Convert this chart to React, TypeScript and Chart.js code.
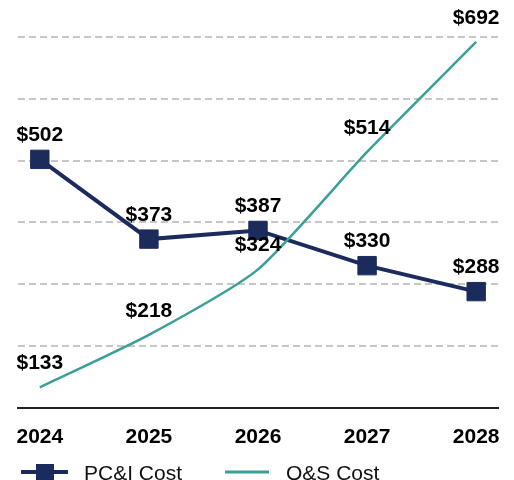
import React, { useEffect, useRef } from "react";
import { Chart, registerables } from "chart.js";

Chart.register(...registerables);

const years = [2024, 2025, 2026, 2027, 2028];
const pciCost = [502, 373, 387, 330, 288];
const osCost = [133, 218, 324, 514, 692];
const seriesNames = ["PC&I Cost", "O&S Cost"];

const NAVY = "#1b2b5c";
const TEAL = "#3a9f97";
const FONT = "'Liberation Sans', Arial, sans-serif";

const labelPlugin = {
  id: "valueLabels",
  afterDatasetsDraw(chart: any) {
    const ctx = chart.ctx;
    ctx.save();
    ctx.font = `bold 21px ${FONT}`;
    ctx.fillStyle = "#000";
    ctx.textAlign = "center";
    ctx.textBaseline = "middle";
    chart.data.datasets.forEach((ds: any, di: number) => {
      const meta = chart.getDatasetMeta(di);
      meta.data.forEach((pt: any, i: number) => {
        const v = ds.data[i].y;
        ctx.fillText("$" + v, pt.x, pt.y - 24);
      });
    });
    ctx.restore();
  },
};

const legendPlugin = {
  id: "customLegend",
  afterDraw(chart: any) {
    const ctx = chart.ctx;
    const y = 472;
    ctx.save();
    // PC&I
    ctx.strokeStyle = NAVY;
    ctx.lineWidth = 4;
    ctx.beginPath();
    ctx.moveTo(21, y);
    ctx.lineTo(68, y);
    ctx.stroke();
    ctx.fillStyle = NAVY;
    ctx.fillRect(36, y - 8, 18, 18);
    // O&S
    ctx.strokeStyle = TEAL;
    ctx.lineWidth = 3;
    ctx.beginPath();
    ctx.moveTo(225, y);
    ctx.lineTo(269, y);
    ctx.stroke();
    ctx.font = `21px ${FONT}`;
    ctx.fillStyle = "#111";
    ctx.textAlign = "left";
    ctx.textBaseline = "middle";
    ctx.fillText(seriesNames[0], 84, y + 2);
    ctx.fillText(seriesNames[1], 286, y + 2);
    ctx.restore();
  },
};

export default function App() {
  const ref = useRef<HTMLCanvasElement | null>(null);
  useEffect(() => {
    if (!ref.current) return;
    const chart = new Chart(ref.current, {
      type: "line",
      data: {
        datasets: [
          {
            label: seriesNames[0],
            data: years.map((x, i) => ({ x, y: pciCost[i] })),
            borderColor: NAVY,
            backgroundColor: NAVY,
            borderWidth: 4,
            pointStyle: "rect",
            pointRadius: 13,
            pointBorderWidth: 1,
            pointBackgroundColor: NAVY,
            pointBorderColor: NAVY,
            tension: 0,
            order: 1,
          },
          {
            label: seriesNames[1],
            data: years.map((x, i) => ({ x, y: osCost[i] })),
            borderColor: TEAL,
            backgroundColor: TEAL,
            borderWidth: 2.5,
            pointRadius: 0,
            tension: 0.2,
            order: 0,
          },
        ],
      },
      options: {
        responsive: false,
        animation: false,
        devicePixelRatio: 1,
        layout: { padding: { top: 37, left: 18, right: 16, bottom: 13 } },
        plugins: {
          legend: { display: false },
          tooltip: { enabled: false },
        },
        scales: {
          x: {
            type: "linear",
            min: 2023.8,
            max: 2028.2,
            afterBuildTicks: (s: any) => {
              s.ticks = years.map((v) => ({ value: v }));
            },
            afterFit: (s: any) => {
              s.paddingLeft = 0;
              s.paddingRight = 0;
            },
            grid: { display: false, drawTicks: false },
            border: { display: true, color: "#222", width: 2 },
            ticks: {
              padding: 17,
              color: "#000",
              font: { family: FONT, size: 21, weight: "bold" },
              callback: (v: any) => String(v),
              maxRotation: 0,
            },
          },
          y: {
            min: 100,
            max: 700,
            ticks: { display: false, stepSize: 100 },
            grid: {
              drawTicks: false,
              lineWidth: 2,
              color: (c: any) => (c.tick && c.tick.value === 100 ? "rgba(0,0,0,0)" : "#c6c6c6"),
            },
            border: { display: false, dash: [7, 4] },
          },
        },
      },
      plugins: [labelPlugin, legendPlugin],
    } as any);
    return () => chart.destroy();
  }, []);
  return (
    <div style={{ position: "fixed", left: 0, top: 0, width: 514, height: 480, background: "#fff" }}>
      <canvas ref={ref} width={514} height={480} />
    </div>
  );
}
